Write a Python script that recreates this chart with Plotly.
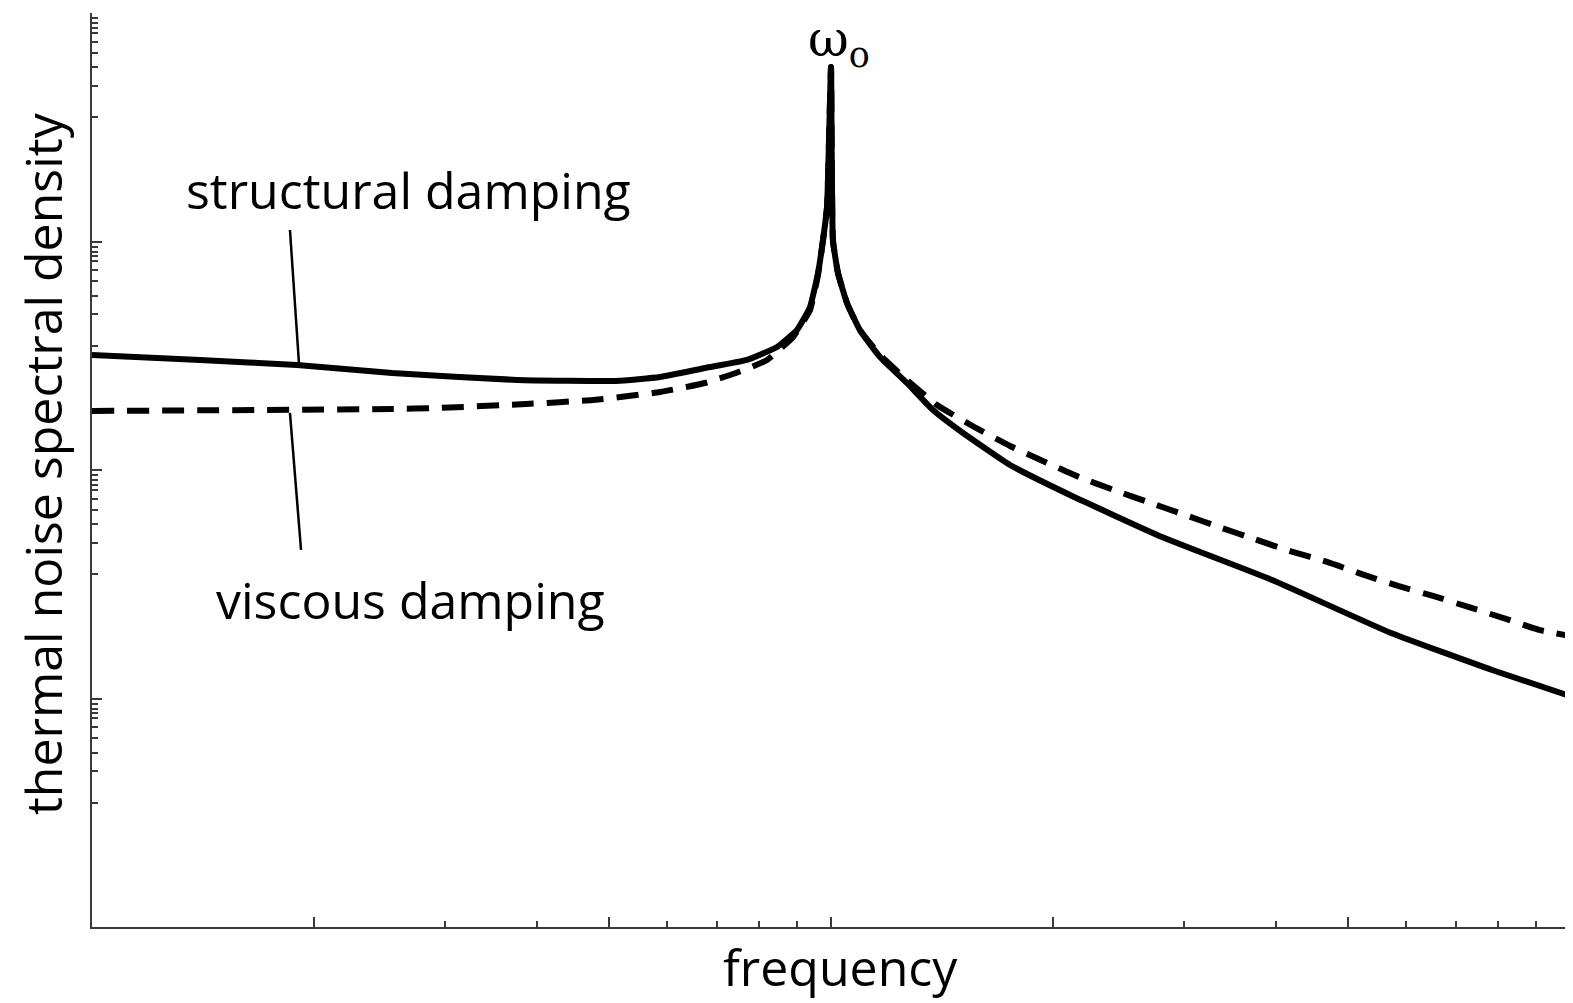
import plotly.graph_objects as go

# ---- data (frequency in units where resonance w0 = 10) ----
structural_x = [1.0, 1.40, 1.894, 2.547, 3.759, 5.118, 5.870, 6.754, 7.696, 8.453, 8.995, 9.367, 9.603, 9.754, 9.877, 10.0,
                10.06, 10.22, 10.51, 10.94, 11.65, 12.67, 13.74, 15.09, 17.47, 21.06, 28.05, 39.53, 57.25, 78.44, 100.0]
structural_y = [318.7, 303.0, 288.0, 265.8, 247.7, 245.2, 255.3, 279.5, 303.0, 345.4, 410.0, 516.9, 728.0, 1015, 1416, 5802,
                1015, 728.0, 538.2, 410.0, 312.3, 240.3, 183.0, 145.2, 105.2, 77.7, 50.9, 33.0, 19.35, 13.33, 10.25]

viscous_x = [1.0, 2.547, 2.930, 3.866, 4.764, 5.870, 6.754, 7.437, 8.194, 8.884, 9.367, 9.603, 9.754, 9.877, 10.0,
             10.06, 10.22, 10.51, 10.94, 11.65, 12.67, 13.91, 15.71, 17.47, 19.48, 21.65, 24.15, 26.85, 30.13, 33.50,
             37.36, 41.80, 46.91, 52.15, 58.53, 65.26, 73.02, 81.91, 91.07, 100.0]
viscous_y = [181.2, 184.9, 186.7, 194.4, 202.4, 219.4, 240.3, 265.8, 303.0, 382.1, 501.5, 713.6, 1015, 1416, 5802,
             1015, 728.0, 538.2, 410.0, 318.7, 247.7, 192.5, 152.7, 127.4, 108.4, 93.2, 81.7, 72.4, 63.6, 56.3,
             49.9, 44.2, 39.6, 35.1, 31.1, 28.1, 25.1, 22.3, 19.9, 18.8]

# leader lines for labels
struct_leader_x = [1.853, 1.906]
struct_leader_y = [1123, 290.9]
visc_leader_x = [1.853, 1.918]
visc_leader_y = [177.7, 44.7]

# ticks
x_major_ticks = [1, 2, 5, 10, 20, 50, 100]
x_minor_ticks = [3, 4, 6, 7, 8, 9, 30, 40, 60, 70, 80, 90]
y_major_ticks = [1, 10, 100, 1000, 10000]
y_minor_factors = [0.95, 0.90, 0.86, 0.82, 0.75, 0.67, 0.58, 0.48, 0.35]
y_minor_ticks = [m * f for m in [10, 100, 1000, 10000] for f in y_minor_factors]

FONT = "Open Sans"
OFF = 8  # default page body margin
W, H = 1573 - OFF, 1003 - OFF
ML, MR, MT = 92 - OFF, 3, 13 - OFF
PW, PH = 1478, 914
MB = H - MT - PH


def px(xp):
    return (xp - OFF - ML) / PW


def py(yp):
    return 1 - (yp - OFF - MT) / PH


fig = go.Figure()
fig.add_trace(go.Scatter(x=structural_x, y=structural_y, mode="lines",
                         line=dict(color="black", width=6, shape="spline", smoothing=0.4),
                         name="structural damping", showlegend=False))
fig.add_trace(go.Scatter(x=viscous_x, y=viscous_y, mode="lines",
                         line=dict(color="black", width=6, dash="22px,13px", shape="spline", smoothing=0.4),
                         name="viscous damping", showlegend=False))
fig.add_trace(go.Scatter(x=struct_leader_x, y=struct_leader_y, mode="lines",
                         line=dict(color="black", width=2.5), showlegend=False, hoverinfo="skip"))
fig.add_trace(go.Scatter(x=visc_leader_x, y=visc_leader_y, mode="lines",
                         line=dict(color="black", width=2.5), showlegend=False, hoverinfo="skip"))

fig.update_layout(
    width=W, height=H,
    margin=dict(l=ML, r=MR, t=MT, b=MB, autoexpand=False),
    paper_bgcolor="white", plot_bgcolor="white",
    showlegend=False,
    xaxis=dict(type="log", range=[0, 2], showgrid=False, zeroline=False, automargin=False,
               showline=True, linecolor="#3a3a3a", linewidth=2,
               tickmode="array", tickvals=x_major_ticks, ticks="inside", ticklen=10,
               tickwidth=1.5, tickcolor="#3a3a3a", showticklabels=False,
               minor=dict(tickmode="array", tickvals=x_minor_ticks, ticks="inside",
                          ticklen=6, tickwidth=1.5, tickcolor="#3a3a3a", showgrid=False)),
    yaxis=dict(type="log", range=[0, 4], showgrid=False, zeroline=False, automargin=False,
               showline=True, linecolor="#3a3a3a", linewidth=2,
               tickmode="array", tickvals=y_major_ticks, ticks="inside", ticklen=10,
               tickwidth=1.5, tickcolor="#3a3a3a", showticklabels=False,
               minor=dict(tickmode="array", tickvals=y_minor_ticks, ticks="inside",
                          ticklen=6, tickwidth=1.5, tickcolor="#3a3a3a", showgrid=False)),
)

annots = [
    dict(text="thermal noise spectral density", x=px(43), y=py(464), textangle=-90,
         xanchor="center", yanchor="middle",
         font=dict(family=FONT, size=50, color="black")),
    dict(text="frequency", x=px(840), y=py(1003),
         xanchor="center", yanchor="bottom",
         font=dict(family=FONT, size=50, color="black")),
    dict(text="structural damping", x=px(408), y=py(190),
         xanchor="center", yanchor="middle",
         font=dict(family=FONT, size=50, color="black")),
    dict(text="viscous damping", x=px(410), y=py(600),
         xanchor="center", yanchor="middle",
         font=dict(family=FONT, size=50, color="black")),
    dict(text="ω<sub>o</sub>", x=px(839), y=py(OFF),
         xanchor="center", yanchor="top",
         font=dict(family="DejaVu Serif", size=50, color="black")),
]
for a in annots:
    fig.add_annotation(xref="paper", yref="paper", showarrow=False, **a)

fig.write_html("out.html")
